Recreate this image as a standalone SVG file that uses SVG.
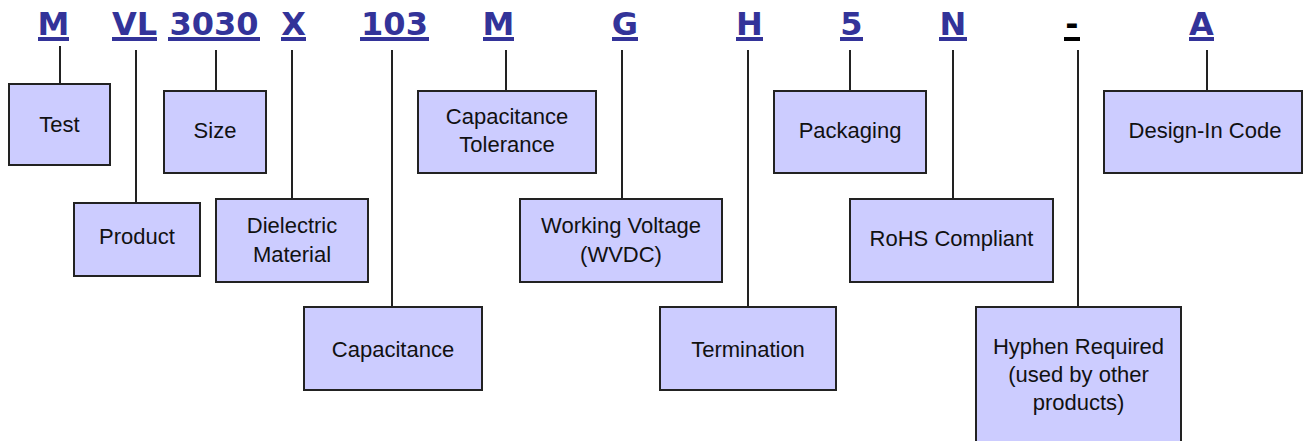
<svg xmlns="http://www.w3.org/2000/svg" width="1304" height="441" viewBox="0 0 1304 441">
<style>
.code{font-family:"DejaVu Sans",Verdana,sans-serif;font-weight:bold;font-size:32px;fill:#333399;text-anchor:middle}
.ul{fill:#333399}
.box{fill:#ccccff;stroke:#222;stroke-width:2}
.lbl{font-family:"Liberation Sans",Arial,sans-serif;font-size:22px;fill:#111;text-anchor:middle}
.conn line{stroke:#222;stroke-width:2}
</style>
<rect width="1304" height="441" fill="#fff"/>
<g id="codes">
<text class="code" x="53.5" y="35">M</text><rect class="ul" x="38" y="37" width="31" height="4"/>
<text class="code" x="134.5" y="35">VL</text><rect class="ul" x="112" y="37" width="45" height="4"/>
<text class="code" x="214" y="35">3030</text><rect class="ul" x="168" y="37" width="92" height="4"/>
<text class="code" x="293.5" y="35">X</text><rect class="ul" x="281" y="37" width="25" height="4"/>
<text class="code" x="394.5" y="35">103</text><rect class="ul" x="360" y="37" width="69" height="4"/>
<text class="code" x="498.5" y="35">M</text><rect class="ul" x="483" y="37" width="31" height="4"/>
<text class="code" x="625" y="35">G</text><rect class="ul" x="612" y="37" width="26" height="4"/>
<text class="code" x="749.5" y="35">H</text><rect class="ul" x="736" y="37" width="27" height="4"/>
<text class="code" x="851.5" y="35">5</text><rect class="ul" x="840" y="37" width="23" height="4"/>
<text class="code" x="953" y="35">N</text><rect class="ul" x="939" y="37" width="28" height="4"/>
<text class="code" x="1072" y="35" style="fill:#000">-</text><rect x="1064" y="37" width="16" height="4" fill="#000"/>
<text class="code" x="1201.5" y="35">A</text><rect class="ul" x="1189" y="37" width="25" height="4"/>
</g>
<g id="connectors" class="conn">
<line x1="60" y1="46" x2="60" y2="84"/>
<line x1="136" y1="50" x2="136" y2="203"/>
<line x1="216" y1="50" x2="216" y2="91"/>
<line x1="292" y1="50" x2="292" y2="199"/>
<line x1="392" y1="50" x2="392" y2="307"/>
<line x1="506" y1="50" x2="506" y2="91"/>
<line x1="622" y1="50" x2="622" y2="199"/>
<line x1="748" y1="50" x2="748" y2="307"/>
<line x1="850" y1="50" x2="850" y2="91"/>
<line x1="953" y1="50" x2="953" y2="199"/>
<line x1="1078" y1="50" x2="1078" y2="307"/>
<line x1="1207" y1="50" x2="1207" y2="91"/>
</g>
<g id="test"><rect class="box" x="9" y="84" width="101" height="81"/><text class="lbl" x="59.5" y="132">Test</text></g>
<g id="size"><rect class="box" x="164" y="91" width="102" height="82"/><text class="lbl" x="215" y="138">Size</text></g>
<g id="cap-tol"><rect class="box" x="418" y="91" width="178" height="82"/><text class="lbl" x="507" y="124">Capacitance</text><text class="lbl" x="507" y="152">Tolerance</text></g>
<g id="packaging"><rect class="box" x="774" y="91" width="152" height="82"/><text class="lbl" x="850" y="138">Packaging</text></g>
<g id="design-in"><rect class="box" x="1104" y="91" width="198" height="82"/><text class="lbl" x="1205" y="138">Design-In Code</text></g>
<g id="product"><rect class="box" x="74" y="203" width="126" height="73"/><text class="lbl" x="137" y="244">Product</text></g>
<g id="dielectric"><rect class="box" x="216" y="199" width="152" height="83"/><text class="lbl" x="292" y="233">Dielectric</text><text class="lbl" x="292" y="262">Material</text></g>
<g id="voltage"><rect class="box" x="520" y="199" width="202" height="83"/><text class="lbl" x="621" y="233">Working Voltage</text><text class="lbl" x="621" y="262">(WVDC)</text></g>
<g id="rohs"><rect class="box" x="850" y="199" width="203" height="83"/><text class="lbl" x="951.5" y="246">RoHS Compliant</text></g>
<g id="capacitance"><rect class="box" x="304" y="307" width="178" height="83"/><text class="lbl" x="393" y="357">Capacitance</text></g>
<g id="termination"><rect class="box" x="660" y="307" width="176" height="83"/><text class="lbl" x="748" y="357">Termination</text></g>
<g id="hyphen"><rect class="box" x="976" y="307" width="205" height="140"/><text class="lbl" x="1078.5" y="354">Hyphen Required</text><text class="lbl" x="1078.5" y="382">(used by other</text><text class="lbl" x="1078.5" y="410">products)</text></g>
</svg>
